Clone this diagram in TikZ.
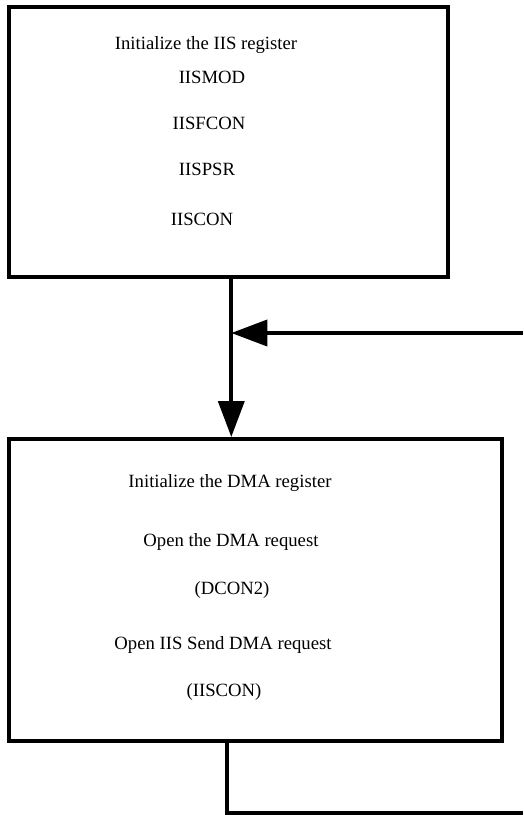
\documentclass[tikz,border=0pt]{standalone}
\usepackage{fontspec}
\setmainfont{Liberation Serif}
\usetikzlibrary{arrows.meta}

\tikzset{
  box/.style={draw, line width=4pt, rectangle, inner sep=0pt},
  label/.style={font=\fontsize{18.7}{22}\selectfont, anchor=base, inner sep=0pt},
  flow/.style={line width=3.8pt},
  head/.style={-{Triangle[length=36pt,width=26pt]}}
}

\begin{document}
\begin{tikzpicture}[x=1pt, y=-1pt]
  \useasboundingbox (0,0) rectangle (523,815);

  % the two process boxes
  \node[box, minimum width=439.2pt, minimum height=269.5pt] (iis) at (228.4,141.95) {};
  \node[box, minimum width=493.3pt, minimum height=302pt] (dma) at (255.35,590) {};

  % text of the IIS box
  \node[label] (t1) at (206,49.5) {Initialize the IIS register};
  \node[label] (t2) at (212,83.3) {IISMOD};
  \node[label] (t3) at (209,129.3) {IISFCON};
  \node[label] (t4) at (207,175.7) {IISPSR};
  \node[label] (t5) at (202,225.3) {IISCON};

  % text of the DMA box
  \node[label] (d1) at (230,487.7) {Initialize the DMA register};
  \node[label] (d2) at (231,546) {Open the DMA request};
  \node[label] (d3) at (232,594) {(DCON2)};
  \node[label] (d4) at (223,649.3) {Open IIS Send DMA request};
  \node[label] (d5) at (224,696) {(IISCON)};

  % junction, loop entry and loop exit points
  \coordinate (j) at (231.3,333);
  \coordinate (inR) at (523,333);
  \coordinate (outB) at (227,812.7);
  \coordinate (outR) at (523,812.7);

  % main flow from the IIS box into the DMA box
  \draw[flow] (iis.south -| j) -- (j);
  \draw[flow, head] (j) -- (j |- dma.north);

  % loop returning from the right
  \draw[flow, head] (inR) -- (j);

  % loop leaving the DMA box
  \draw[flow] (dma.south -| outB) -- (outB) -- (outR);
\end{tikzpicture}
\end{document}
